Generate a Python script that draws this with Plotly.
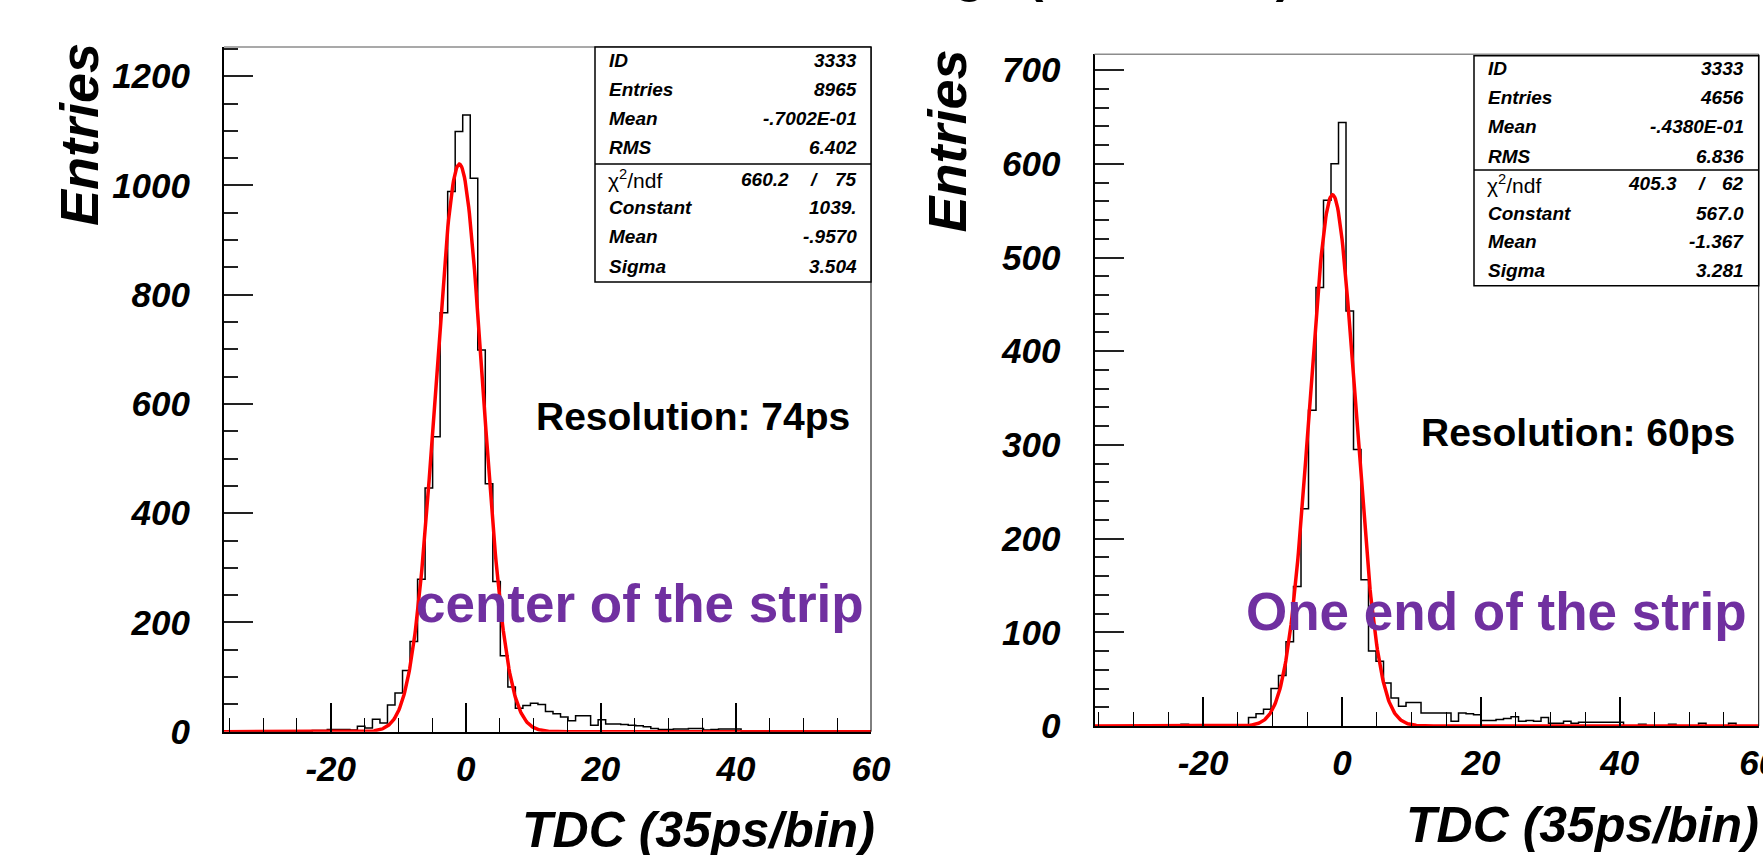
import numpy as np
import plotly.graph_objects as go

W, H = 1763, 855
FONT = "Liberation Sans"
PURPLE = "#7030A0"

# ---------------- data: centre of the strip ----------------
left_bin_start = -34.988
left_bin_width = 1.114
left_counts = [
    0, 0, 0, 0, 0, 0, 0, 0, 1, 0, 1, 2, 2,
    4, 4, 4, 3, 10, 7, 23, 16, 49, 71, 112, 165, 279, 446, 540, 767, 989, 1099, 1129,
    1013, 699, 454, 275, 139, 82,
    43, 48, 52, 50, 37, 33, 27, 20, 29, 29, 12, 22, 14, 14, 13, 12, 11, 9, 6, 4,
    4, 5, 5, 6, 6, 3, 4, 5, 5, 5,
    0, 0, 0, 0, 0, 0, 0, 0, 0, 0, 0, 0, 0, 0, 0, 0, 0, 0,
]
left_fit = {"Constant": 1039.0, "Mean": -0.9570, "Sigma": 3.504}
left_stats_values = ["3333", "8965", "-.7002E-01", "6.402"]
left_fit_values = ["1039.", "-.9570", "3.504"]
left_chi2, left_ndf = "660.2", "75"
left_resolution = "Resolution: 74ps"
left_position = "center of the strip"

# ---------------- data: one end of the strip ----------------
right_bin_start = -35.064
right_bin_width = 1.08
right_counts = [
    0, 0, 0, 0, 0, 0, 0, 0, 0, 0, 0, 2, 0, 0, 0, 0, 0, 0, 0, 0,
    9, 13, 18, 40, 54, 90, 149, 232, 337, 468, 561, 600, 644,
    443, 295, 156, 80, 69, 46, 30, 21, 25, 25, 14, 14, 14, 14, 5, 14, 13, 12,
    6, 6, 7, 8, 10, 5, 6, 5, 9, 3, 3, 5, 3, 4, 4, 4, 4, 4, 4,
    0, 0, 2, 0, 0, 0, 2, 0, 0, 0, 3, 0, 0, 0, 3, 0, 0, 0,
]
right_fit = {"Constant": 567.0, "Mean": -1.367, "Sigma": 3.281}
right_stats_values = ["3333", "4656", "-.4380E-01", "6.836"]
right_fit_values = ["567.0", "-1.367", "3.281"]
right_chi2, right_ndf = "405.3", "62"
right_resolution = "Resolution: 60ps"
right_position = "One end of the strip"

stats_labels = ["ID", "Entries", "Mean", "RMS"]
fit_labels = ["Constant", "Mean", "Sigma"]
x_tick_values = [-20, 0, 20, 40, 60]
x_tick_text = ["-20", "0", "20", "40", "60"]
x_title = "TDC (35ps/bin)"
y_title = "Entries"
page_title = "Timings (Two Ends)"


def step_xy(start, width, counts):
    edges = [start + width * i for i in range(len(counts) + 1)]
    return [edges[0]] + edges, [0] + list(counts) + [0]


def gauss(xs, p):
    return p["Constant"] * np.exp(-0.5 * ((xs - p["Mean"]) / p["Sigma"]) ** 2)


fig = go.Figure()

panels = [
    dict(xa="x", ya="y", start=left_bin_start, width=left_bin_width, counts=left_counts,
         fit=left_fit, xr=[-35.8, 60]),
    dict(xa="x2", ya="y2", start=right_bin_start, width=right_bin_width, counts=right_counts,
         fit=right_fit, xr=[-35.64, 60]),
]
for p in panels:
    hx, hy = step_xy(p["start"], p["width"], p["counts"])
    fig.add_trace(go.Scatter(x=hx, y=hy, mode="lines", line=dict(color="black", width=1.5, shape="hv"),
                             xaxis=p["xa"], yaxis=p["ya"], hoverinfo="skip", showlegend=False))
    gx = np.linspace(p["xr"][0], p["xr"][1], 900)
    fig.add_trace(go.Scatter(x=gx, y=gauss(gx, p["fit"]), mode="lines",
                             line=dict(color="#ff0000", width=3.5),
                             xaxis=p["xa"], yaxis=p["ya"], hoverinfo="skip", showlegend=False))

tickfont = dict(family=FONT, size=35, color="black", weight="bold", style="italic")


def xaxis_cfg(domain, rng, anchor):
    return dict(domain=domain, range=rng, anchor=anchor, automargin=False,
                showgrid=False, zeroline=False,
                showline=True, linecolor="black", linewidth=2, ticks="inside", ticklen=29,
                tickwidth=1.5, tickcolor="black",
                tickmode="array", tickvals=x_tick_values, ticktext=x_tick_text,
                minor=dict(ticks="inside", ticklen=14, tickwidth=1.3, tickcolor="black",
                           tickmode="linear", tick0=0, dtick=5),
                tickfont=tickfont, ticklabelstandoff=5, ticklabeloverflow="allow",
                fixedrange=True)


def yaxis_cfg(domain, rng, anchor, dtick, mdtick):
    return dict(domain=domain, range=rng, anchor=anchor, automargin=False,
                showgrid=False, zeroline=False,
                showline=True, linecolor="black", linewidth=2, ticks="inside", ticklen=29,
                tickwidth=2, tickcolor="#222222", tick0=0, dtick=dtick,
                minor=dict(ticks="inside", ticklen=14, tickwidth=1.5, tickcolor="#222222",
                           tick0=0, dtick=mdtick),
                tickfont=tickfont, ticklabelstandoff=25, ticklabeloverflow="allow",
                fixedrange=True)


fig.update_layout(
    width=W, height=H, margin=dict(l=0, r=0, t=0, b=0, autoexpand=False),
    paper_bgcolor="white", plot_bgcolor="white",
    xaxis=xaxis_cfg([224 / W, 871 / W], [-35.8, 60], "y"),
    yaxis=yaxis_cfg([1 - 731.7 / H, 1 - 47 / H], [0, 1253.5], "x", 200, 50),
    xaxis2=xaxis_cfg([1094.5 / W, 1758.7 / W], [-35.64, 60], "y2"),
    yaxis2=yaxis_cfg([1 - 726 / H, 1 - 54.3 / H], [0, 716.9], "x2", 100, 20),
)

shapes = []
for xd, yd in [("x domain", "y domain"), ("x2 domain", "y2 domain")]:
    shapes.append(dict(type="line", xref=xd, yref=yd, x0=0, x1=1, y0=1, y1=1,
                       line=dict(color="#8c8c8c", width=1.5)))
    shapes.append(dict(type="line", xref=xd, yref=yd, x0=1, x1=1, y0=0, y1=1,
                       line=dict(color="black", width=1)))

annotations = []


def ann(text, x, y, xanchor, yanchor="middle", size=19, weight="bold", style="italic",
        color="black", family=FONT, angle=0):
    annotations.append(dict(text=text, x=x / W, y=1 - y / H, xref="paper", yref="paper",
                            xanchor=xanchor, yanchor=yanchor, showarrow=False, textangle=angle,
                            font=dict(family=family, size=size, color=color, weight=weight, style=style)))


def stats_box(left, right, top, divider, bottom, svals, fvals, chi2, ndf, row0, row1, pad):
    shapes.append(dict(type="rect", xref="paper", yref="paper", x0=left / W, x1=right / W,
                       y0=1 - bottom / H, y1=1 - top / H, fillcolor="white",
                       line=dict(color="black", width=1.5), layer="above"))
    shapes.append(dict(type="line", xref="paper", yref="paper", x0=left / W, x1=right / W,
                       y0=1 - divider / H, y1=1 - divider / H, line=dict(color="black", width=1.5)))
    for i, (lab, val) in enumerate(zip(stats_labels, svals)):
        yy = row0 + 29.2 * i
        ann(lab, left + 12, yy, "left")
        ann(val, right - pad, yy, "right")
    ann("χ<sup>2</sup>/ndf", left + 11, row1, "left", size=21, weight="normal", style="normal")
    ann(chi2, right - 80, row1, "right")
    ann("/", right - 57, row1, "center")
    ann(ndf, right - pad, row1, "right")
    for i, (lab, val) in enumerate(zip(fit_labels, fvals)):
        yy = row1 + 29 * (i + 1)
        ann(lab, left + 12, yy, "left")
        ann(val, right - pad, yy, "right")


stats_box(595, 871, 47, 164, 282, left_stats_values, left_fit_values, left_chi2, left_ndf, 60, 179, 12)
stats_box(1474, 1758.7, 55.7, 170, 285.7, right_stats_values, right_fit_values, right_chi2, right_ndf,
          68.5, 184, 13)

# resolution labels
ann(left_resolution, 852, 417, "right", size=39, style="normal")
ann(right_resolution, 1737, 432, "right", size=39, style="normal")

# position labels
ann(left_position, 866, 603, "right", size=53, style="normal", color=PURPLE)
ann(right_position, 1749, 611.5, "right", size=53, style="normal", color=PURPLE)

# axis titles
ann(y_title, 79, 135, "center", size=54, angle=-90)
ann(y_title, 946, 141.5, "center", size=54, angle=-90)
ann(x_title, 877, 830, "right", size=50)
ann(x_title, 1761, 825, "right", size=50)

# page title, mostly above the top edge
ann(page_title, 1294, 4.5, "right", yanchor="bottom", size=50, style="normal")

fig.update_layout(shapes=shapes, annotations=annotations)
fig.write_html("out.html")
